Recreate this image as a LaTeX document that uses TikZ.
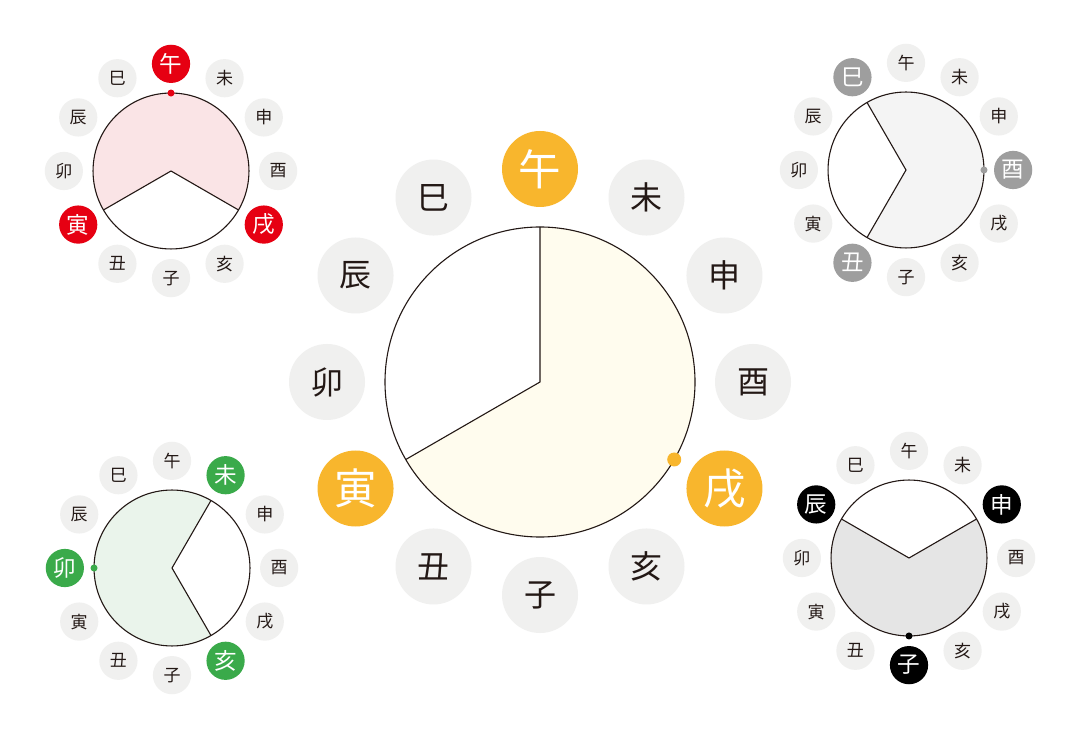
\documentclass[tikz,border=0pt]{standalone}
\usepackage{fontspec}
\newfontfamily\cjk{Noto Sans CJK JP}
\definecolor{lbg}{HTML}{F0F0EF}
\definecolor{ink}{HTML}{231815}
\definecolor{orangeA}{HTML}{F8B62D}
\definecolor{yellowF}{HTML}{FFFCEE}
\definecolor{redA}{HTML}{E60012}
\definecolor{pinkF}{HTML}{FAE4E6}
\definecolor{grayA}{HTML}{9E9E9E}
\definecolor{grayF}{HTML}{F4F4F4}
\definecolor{greenA}{HTML}{3AAA4A}
\definecolor{greenF}{HTML}{EAF4EB}
\definecolor{blackA}{HTML}{000000}
\definecolor{blackF}{HTML}{E5E5E5}
\tikzset{
  branch/.style={circle, inner sep=0pt, fill=lbg, text=ink},
  branchhi/.style={circle, inner sep=0pt, text=white},
  rim/.style={draw=ink, line width=0.55pt},
}
\def\branchname#1{\ifcase#1 午\or 未\or 申\or 酉\or 戌\or 亥\or 子\or 丑\or 寅\or 卯\or 辰\or 巳\fi}
% #1 name, #2 x, #3 y, #4 scale, #5 k, #6 accent, #7 fill, #8 dot angle, #9 font size (pt)
\newcommand\drawchart[9]{%
\begin{scope}[shift={(#2,#3)}]
  \pgfmathsetmacro\hf{#9*1.33}%
  \coordinate (#1c) at (0,0);
  \coordinate (#1a) at (#8-120:155*#4);
  \coordinate (#1b) at (#8+120:155*#4);
  \fill[#7] (#1c) -- (#1a) arc[start angle=#8-120, end angle=#8+120, radius=155*#4] -- cycle;
  \draw[rim] (#1c) circle[radius=155*#4];
  \draw[rim, line join=miter] (#1a) -- (#1c) -- (#1b);
  \fill[#6] (#8:155*#4) circle[radius=7*#4];
  \foreach \i in {0,...,11}{%
    \pgfmathtruncatemacro\m{mod(\i,4)}%
    \ifnum\m=#5
      \node[branchhi, fill=#6, minimum size=38*#4 pt, font=\cjk\fontsize{\hf}{\hf}\selectfont]
        (#1-\i) at (90-30*\i:213*#4) {\branchname{\i}};
    \else
      \node[branch, minimum size=38*#4 pt, font=\cjk\fontsize{#9}{#9}\selectfont]
        (#1-\i) at (90-30*\i:213*#4) {\branchname{\i}};
    \fi
  }
\end{scope}}
\begin{document}
\begin{tikzpicture}[x=0.5pt, y=0.5pt]
\useasboundingbox[fill=white] (0,0) rectangle (1070,750);
\drawchart{main}{540}{368}{1}{0}{orangeA}{yellowF}{-30}{16}
\drawchart{tl}{171}{579}{0.503}{0}{redA}{pinkF}{90}{8.5}
\drawchart{tr}{906}{580}{0.503}{3}{grayA}{grayF}{0}{8.5}
\drawchart{bl}{172}{182}{0.503}{1}{greenA}{greenF}{180}{8.5}
\drawchart{br}{909}{192}{0.503}{2}{blackA}{blackF}{270}{8.5}
\end{tikzpicture}
\end{document}
